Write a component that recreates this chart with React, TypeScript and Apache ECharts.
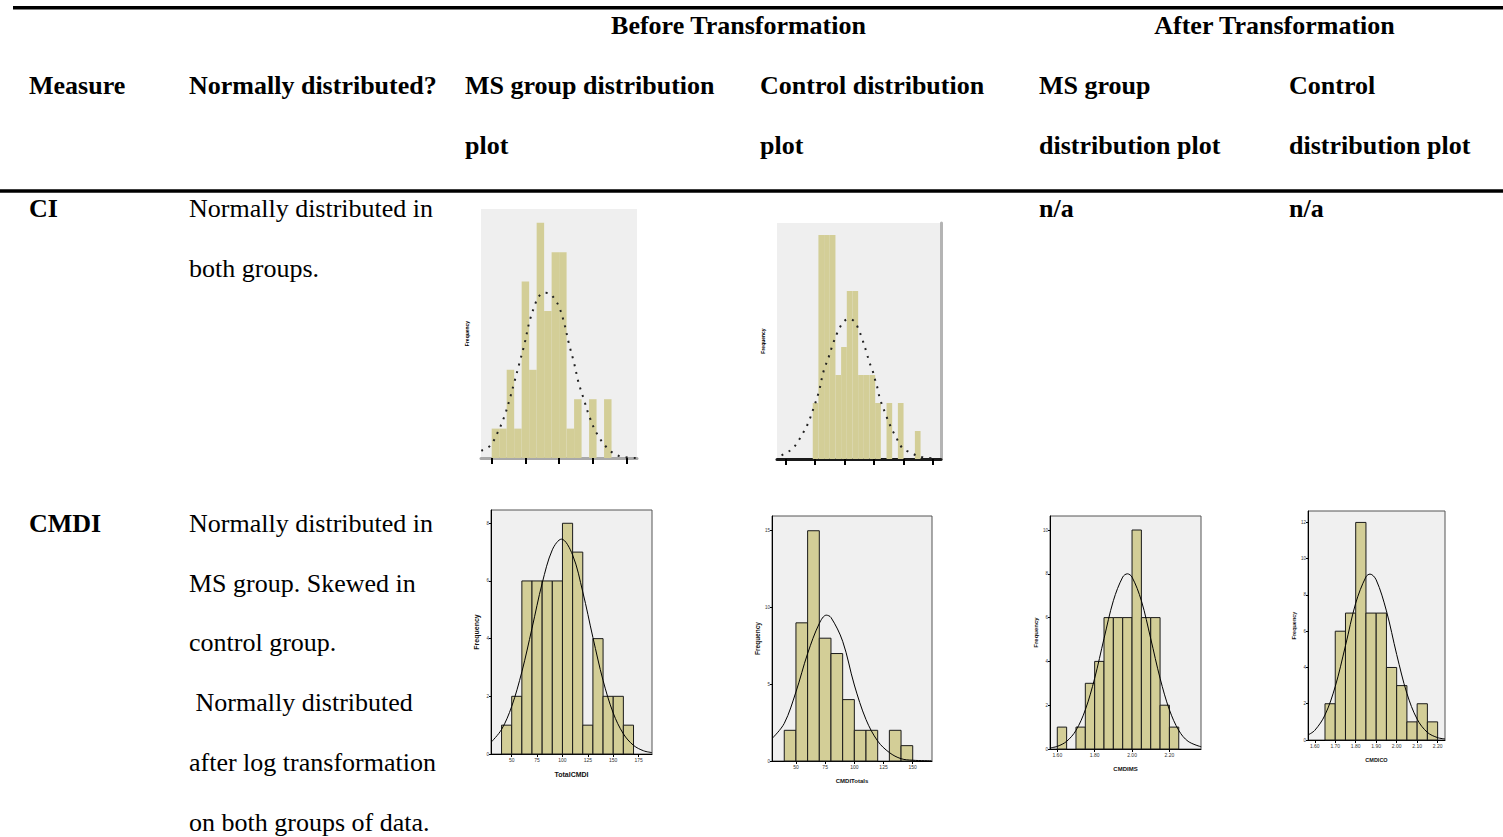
import { useEffect, useRef } from 'react';
import * as echarts from 'echarts';

// ---------- table text ----------
const GROUP_HEADERS = ['Before Transformation', 'After Transformation'];
const HEADER_LINE1 = ['Measure', 'Normally distributed?', 'MS group distribution', 'Control distribution', 'MS group', 'Control'];
const HEADER_LINE2 = ['', '', 'plot', 'plot', 'distribution plot', 'distribution plot'];
const MEASURES = ['CI', 'CMDI'];
const CI_NOTE = ['Normally distributed in', 'both groups.'];
const CMDI_NOTE = [
  'Normally distributed in',
  'MS group. Skewed in',
  'control group.',
  ' Normally distributed',
  'after log transformation',
  'on both groups of data.',
];
const NOT_APPLICABLE = 'n/a';

// ---------- CI (low-resolution plots, bin index units) ----------
const CI_MS_COUNTS = [1, 1, 3, 1, 6, 3, 8, 5, 7, 7, 1, 2, 0, 2, 0, 2];
const CI_MS_CURVE_X = [-1.4, -0.2, 0.8, 1.7, 2.4, 3.0, 3.7, 4.4, 5.0, 5.7, 6.3, 7.0, 7.7, 8.3, 9.0, 9.7, 10.3, 11.0, 11.6, 12.3, 13.0, 14.0, 15.5, 17.0, 19.4];
const CI_MS_CURVE_Y = [0.25, 0.42, 0.87, 1.42, 2.0, 2.56, 3.23, 3.9, 4.6, 5.16, 5.5, 5.62, 5.6, 5.45, 5.14, 4.57, 3.9, 3.23, 2.56, 2.0, 1.44, 0.85, 0.32, 0.07, 0.0];
const CI_MS_TICKS = [0, 4.5, 9, 13.5, 18];

const CI_CO_COUNTS = [2, 8, 8, 8, 3, 4, 6, 6, 3, 3, 3, 2, 0, 2, 0, 2, 0, 0, 1];
const CI_CO_CURVE_X = [-5.5, -4.5, -3.6, -2.8, -1.7, -0.8, 0.2, 1.1, 1.9, 2.9, 3.4, 4.3, 4.8, 5.6, 6.5, 7.4, 8.1, 8.6, 9.5, 10.0, 10.5, 10.9, 11.4, 11.8, 12.8, 13.7, 14.7, 15.8, 17.1, 19.0, 21.5];
const CI_CO_CURVE_Y = [0.13, 0.24, 0.36, 0.56, 0.93, 1.29, 1.85, 2.42, 3.13, 3.69, 4.02, 4.5, 4.71, 4.94, 5.0, 4.9, 4.62, 4.36, 3.79, 3.44, 3.19, 2.89, 2.54, 2.18, 1.62, 1.17, 0.77, 0.39, 0.24, 0.08, 0.02];
const CI_CO_TICKS = [-4.8, 0.4, 5.6, 10.8, 16.0, 21.2];

// ---------- CMDI before transformation ----------
const TOTALCMDI_BIN_START = 40;
const TOTALCMDI_BIN_WIDTH = 10;
const TOTALCMDI_COUNTS = [1, 2, 6, 6, 6, 6, 8, 7, 1, 4, 2, 2, 1];
const TOTALCMDI_CURVE_X = [30, 40, 50, 60, 70, 80, 90, 99, 110, 120, 130, 140, 150, 160, 170, 180, 188];
const TOTALCMDI_CURVE_Y = [0.42, 0.85, 1.65, 2.85, 4.36, 5.92, 7.08, 7.45, 6.9, 5.62, 4.04, 2.55, 1.42, 0.7, 0.3, 0.11, 0.05];
const TOTALCMDI_X_TICKS = [50, 75, 100, 125, 150, 175];
const TOTALCMDI_Y_TICKS = [0, 2, 4, 6, 8];

const CMDITOTALS_BIN_START = 40;
const CMDITOTALS_BIN_WIDTH = 10;
const CMDITOTALS_COUNTS = [2, 9, 15, 8, 7, 4, 2, 2, 0, 2, 1];
const CMDITOTALS_CURVE_X = [30, 40, 50, 60, 70, 76, 80, 90, 100, 110, 120, 130, 140, 150, 166];
const CMDITOTALS_CURVE_Y = [1.5, 2.45, 4.5, 7.0, 8.96, 9.5, 9.35, 7.8, 4.95, 2.7, 1.3, 0.55, 0.15, 0.05, 0.01];
const CMDITOTALS_X_TICKS = [50, 75, 100, 125, 150];
const CMDITOTALS_Y_TICKS = [0, 5, 10, 15];

// ---------- CMDI after log transformation ----------
const CMDIMS_BIN_START = 1.6;
const CMDIMS_BIN_WIDTH = 0.05;
const CMDIMS_COUNTS = [1, 0, 1, 3, 4, 6, 6, 6, 10, 6, 6, 2, 1];
const CMDIMS_CURVE_X = [1.56, 1.6, 1.65, 1.7, 1.75, 1.8, 1.85, 1.9, 1.95, 1.975, 2.0, 2.05, 2.1, 2.15, 2.2, 2.25, 2.3, 2.37];
const CMDIMS_CURVE_Y = [0.05, 0.12, 0.35, 0.85, 1.79, 3.23, 5.04, 6.77, 7.85, 8.0, 7.85, 6.77, 5.04, 3.23, 1.79, 0.85, 0.35, 0.1];
const CMDIMS_X_TICKS = [1.6, 1.8, 2.0, 2.2];
const CMDIMS_Y_TICKS = [0, 2, 4, 6, 8, 10];

const CMDICO_BIN_START = 1.65;
const CMDICO_BIN_WIDTH = 0.05;
const CMDICO_COUNTS = [2, 6, 7, 12, 7, 7, 4, 3, 1, 2, 1];
const CMDICO_CURVE_X = [1.567, 1.6, 1.65, 1.7, 1.75, 1.8, 1.85, 1.87, 1.9, 1.95, 2.0, 2.05, 2.1, 2.15, 2.2, 2.236];
const CMDICO_CURVE_Y = [0.28, 0.53, 1.38, 2.95, 5.2, 7.55, 9.0, 9.15, 8.83, 7.12, 4.72, 2.57, 1.15, 0.42, 0.13, 0.06];
const CMDICO_X_TICKS = [1.6, 1.7, 1.8, 1.9, 2.0, 2.1, 2.2];
const CMDICO_Y_TICKS = [0, 2, 4, 6, 8, 10, 12];

const BAR_FILL = '#d3ce97';
const PLOT_BG = '#f0f0f0';
const SERIF = '"Liberation Serif", "Times New Roman", serif';
const SANS = '"Liberation Sans", Arial, sans-serif';

function toBins(start: number, width: number, counts: number[]) {
  return counts
    .map((c, i) => [+(start + i * width).toFixed(4), +(start + (i + 1) * width).toFixed(4), c])
    .filter((d) => d[2] > 0);
}

function zip(xs: number[], ys: number[]) {
  return xs.map((x, i) => [x, ys[i]]);
}

function histSeries(idx: number, data: number[][], bordered: boolean) {
  return {
    type: 'custom',
    xAxisIndex: idx,
    yAxisIndex: idx,
    data,
    encode: { x: [0, 1], y: 2 },
    silent: true,
    renderItem: (_p: any, api: any) => {
      const a = api.coord([api.value(0), api.value(2)]);
      const b = api.coord([api.value(1), 0]);
      return {
        type: 'rect',
        shape: { x: a[0], y: a[1], width: b[0] - a[0], height: b[1] - a[1] },
        style: bordered
          ? { fill: BAR_FILL, stroke: '#1a1a1a', lineWidth: 1 }
          : { fill: BAR_FILL, stroke: 'none' },
      };
    },
  };
}

function curveSeries(idx: number, xs: number[], ys: number[], dotted: boolean) {
  return {
    type: 'line',
    xAxisIndex: idx,
    yAxisIndex: idx,
    data: zip(xs, ys),
    smooth: 0.35,
    symbol: 'none',
    silent: true,
    z: 5,
    lineStyle: dotted
      ? { color: '#222', width: 2, type: [2, 6] }
      : { color: '#000', width: 1 },
  };
}

export default function App() {
  const ref = useRef<HTMLDivElement>(null);

  useEffect(() => {
    if (!ref.current) return;
    const chart = echarts.init(ref.current, null, { renderer: 'svg' });

    const colX = [29, 189, 465, 760, 1039, 1289];
    const bold = (text: string, x: number, y: number, align = 'left') => ({
      type: 'text',
      x,
      y,
      silent: true,
      style: {
        text,
        fill: '#000',
        fontFamily: SERIF,
        fontWeight: 'bold',
        fontSize: 26,
        align,
        verticalAlign: 'middle',
      },
    });
    const plain = (text: string, x: number, y: number) => ({
      type: 'text',
      x,
      y,
      silent: true,
      style: {
        text,
        fill: '#000',
        fontFamily: SERIF,
        fontSize: 26,
        align: 'left',
        verticalAlign: 'middle',
      },
    });

    const graphics: any[] = [
      { type: 'line', silent: true, shape: { x1: 13, y1: 7.7, x2: 1503, y2: 7.7 }, style: { stroke: '#000', lineWidth: 3.4 } },
      { type: 'line', silent: true, shape: { x1: 0, y1: 191, x2: 1503, y2: 191 }, style: { stroke: '#000', lineWidth: 3.5 } },
      bold(GROUP_HEADERS[0], 738.5, 25, 'center'),
      bold(GROUP_HEADERS[1], 1274.5, 25, 'center'),
    ];
    HEADER_LINE1.forEach((t, i) => graphics.push(bold(t, colX[i], 85)));
    HEADER_LINE2.forEach((t, i) => t && graphics.push(bold(t, colX[i], 145)));
    graphics.push(bold(MEASURES[0], colX[0], 208.5));
    CI_NOTE.forEach((t, i) => graphics.push(plain(t, colX[1], 208.5 + i * 59.7)));
    graphics.push(bold(NOT_APPLICABLE, colX[4], 208.5));
    graphics.push(bold(NOT_APPLICABLE, colX[5], 208.5));
    graphics.push(bold(MEASURES[1], colX[0], 523.5));
    CMDI_NOTE.forEach((t, i) => graphics.push(plain(t, colX[1], 523.5 + i * 59.7)));

    const grids = [
      { left: 481, top: 209, width: 156, height: 249, show: true, backgroundColor: '#efefef', borderWidth: 0 },
      { left: 777, top: 223, width: 164, height: 236, show: true, backgroundColor: '#efefef', borderWidth: 0 },
      { left: 491, top: 510, width: 161, height: 244, show: true, backgroundColor: PLOT_BG, borderColor: '#555', borderWidth: 1 },
      { left: 772, top: 516, width: 160, height: 245, show: true, backgroundColor: PLOT_BG, borderColor: '#555', borderWidth: 1 },
      { left: 1050, top: 516, width: 151, height: 233, show: true, backgroundColor: PLOT_BG, borderColor: '#555', borderWidth: 1 },
      { left: 1308, top: 511, width: 137, height: 229, show: true, backgroundColor: PLOT_BG, borderColor: '#555', borderWidth: 1 },
    ];

    const ciX = (gi: number, min: number, max: number, ticks: number[], lineColor: string) => ({
      gridIndex: gi,
      type: 'value',
      min,
      max,
      axisLine: { show: true, lineStyle: { color: lineColor, width: 3 } },
      axisTick: { show: true, customValues: ticks, length: 6, lineStyle: { color: '#000', width: 2 } },
      axisLabel: { show: false },
      splitLine: { show: false },
    });
    const ciY = (gi: number, max: number) => ({
      gridIndex: gi,
      type: 'value',
      min: 0,
      max,
      axisLine: { show: false },
      axisTick: { show: false },
      axisLabel: { show: false },
      splitLine: { show: false },
      name: 'Frequency',
      nameLocation: 'middle',
      nameGap: 12,
      nameTextStyle: { fontSize: 5, fontWeight: 'bold', color: '#000', fontFamily: SANS },
    });

    const cmdiX = (gi: number, min: number, max: number, ticks: number[], name: string, digits: number, nameSize: number) => ({
      gridIndex: gi,
      type: 'value',
      min,
      max,
      name,
      nameLocation: 'middle',
      nameGap: 17,
      nameTextStyle: { fontSize: nameSize, fontWeight: 'bold', color: '#111', fontFamily: SANS },
      axisLine: { show: true, lineStyle: { color: '#000', width: 1 } },
      axisTick: { show: true, customValues: ticks, length: 3, lineStyle: { color: '#000' } },
      axisLabel: {
        customValues: ticks,
        fontSize: 5,
        color: '#333',
        margin: 3,
        fontFamily: SANS,
        formatter: (v: number) => v.toFixed(digits),
      },
      splitLine: { show: false },
    });
    const cmdiY = (gi: number, max: number, ticks: number[], nameSize: number) => ({
      gridIndex: gi,
      type: 'value',
      min: 0,
      max,
      name: 'Frequency',
      nameLocation: 'middle',
      nameGap: 11,
      nameTextStyle: { fontSize: nameSize, fontWeight: 'bold', color: '#111', fontFamily: SANS },
      axisLine: { show: true, lineStyle: { color: '#000', width: 1 } },
      axisTick: { show: true, customValues: ticks, length: 2, lineStyle: { color: '#000' } },
      axisLabel: { customValues: ticks, fontSize: 4.5, color: '#333', margin: 2, fontFamily: SANS },
      splitLine: { show: false },
    });

    const xAxes = [
      ciX(0, -1.43, 19.4, CI_MS_TICKS, '#a9a9a9'),
      ciX(1, -6.3, 22.6, CI_CO_TICKS, '#1a1a1a'),
      cmdiX(2, 29.6, 188.2, TOTALCMDI_X_TICKS, 'TotalCMDI', 0, 7),
      cmdiX(3, 29.5, 166.5, CMDITOTALS_X_TICKS, 'CMDITotals', 0, 6),
      cmdiX(4, 1.561, 2.369, CMDIMS_X_TICKS, 'CMDIMS', 2, 6),
      cmdiX(5, 1.567, 2.236, CMDICO_X_TICKS, 'CMDICO', 2, 5.5),
    ];
    const yAxes: any[] = [
      ciY(0, 8.47),
      ciY(1, 8.43),
      cmdiY(2, 8.46, TOTALCMDI_Y_TICKS, 7),
      cmdiY(3, 15.96, CMDITOTALS_Y_TICKS, 6.5),
      cmdiY(4, 10.64, CMDIMS_Y_TICKS, 6),
      cmdiY(5, 12.63, CMDICO_Y_TICKS, 5.5),
      {
        gridIndex: 1,
        type: 'value',
        position: 'right',
        min: 0,
        max: 8.43,
        axisLine: { show: true, lineStyle: { color: '#b4b4b4', width: 3 } },
        axisTick: { show: false },
        axisLabel: { show: false },
        splitLine: { show: false },
      },
    ];

    const series: any[] = [
      histSeries(0, toBins(0, 1, CI_MS_COUNTS), false),
      curveSeries(0, CI_MS_CURVE_X, CI_MS_CURVE_Y, true),
      histSeries(1, toBins(0, 1, CI_CO_COUNTS), false),
      curveSeries(1, CI_CO_CURVE_X, CI_CO_CURVE_Y, true),
      histSeries(2, toBins(TOTALCMDI_BIN_START, TOTALCMDI_BIN_WIDTH, TOTALCMDI_COUNTS), true),
      curveSeries(2, TOTALCMDI_CURVE_X, TOTALCMDI_CURVE_Y, false),
      histSeries(3, toBins(CMDITOTALS_BIN_START, CMDITOTALS_BIN_WIDTH, CMDITOTALS_COUNTS), true),
      curveSeries(3, CMDITOTALS_CURVE_X, CMDITOTALS_CURVE_Y, false),
      histSeries(4, toBins(CMDIMS_BIN_START, CMDIMS_BIN_WIDTH, CMDIMS_COUNTS), true),
      curveSeries(4, CMDIMS_CURVE_X, CMDIMS_CURVE_Y, false),
      histSeries(5, toBins(CMDICO_BIN_START, CMDICO_BIN_WIDTH, CMDICO_COUNTS), true),
      curveSeries(5, CMDICO_CURVE_X, CMDICO_CURVE_Y, false),
    ];

    chart.setOption({
      animation: false,
      backgroundColor: '#fff',
      grid: grids,
      xAxis: xAxes,
      yAxis: yAxes,
      series,
      graphic: graphics,
    });

    return () => chart.dispose();
  }, []);

  return (
    <div
      ref={ref}
      style={{ position: 'absolute', left: 0, top: 0, width: 1503, height: 837, background: '#fff' }}
    />
  );
}
